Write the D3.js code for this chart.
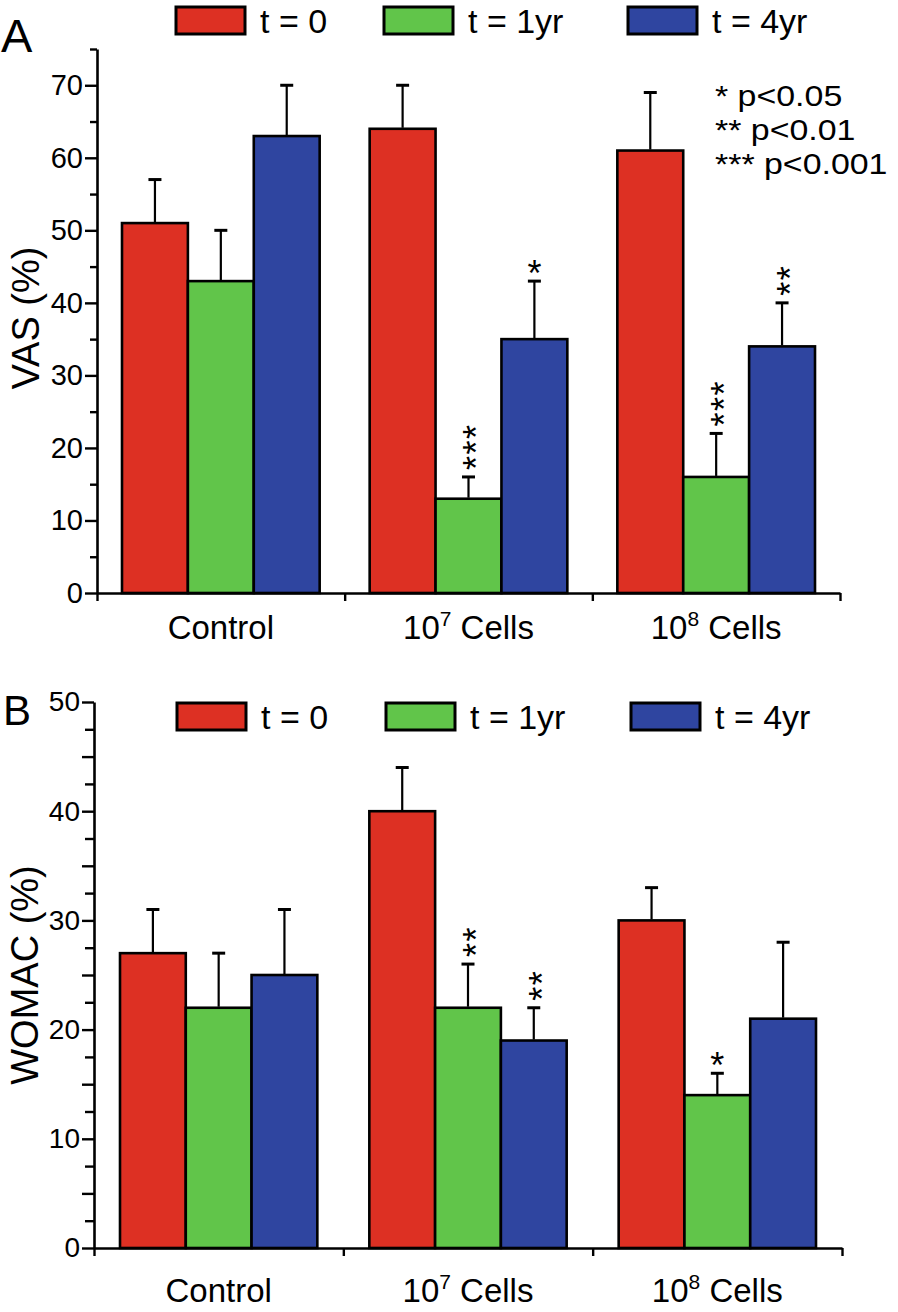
<!DOCTYPE html>
<html>
<head>
<meta charset="utf-8">
<script src="https://cdn.jsdelivr.net/npm/d3@7"></script>
<style>
  html, body { margin: 0; padding: 0; background: #fff; }
  svg { display: block; font-family: "Liberation Sans", Arial, Helvetica, sans-serif; }
</style>
</head>
<body>
<svg id="chart" width="898" height="1312"></svg>
<script>
// ---------------- DATA ----------------
const categories = ["Control", "10^7 Cells", "10^8 Cells"];
const series = ["t = 0", "t = 1yr", "t = 4yr"];
const colors = ["#DD3023", "#61C54A", "#2F45A0"];

// Panel A: VAS (%)
const vasT0 = [51, 64, 61];
const vasT1 = [43, 13, 16];
const vasT4 = [63, 35, 34];
const vasErrT0 = [6, 6, 8];
const vasErrT1 = [7, 3, 6];
const vasErrT4 = [7, 8, 6];
const vasSigT0 = ["", "", ""];
const vasSigT1 = ["", "***", "***"];
const vasSigT4 = ["", "*", "**"];
const vasMajorTicks = [0, 10, 20, 30, 40, 50, 60, 70];
const vasMinorTicks = [5, 15, 25, 35, 45, 55, 65, 75];

// Panel B: WOMAC (%)
const womacT0 = [27, 40, 30];
const womacT1 = [22, 22, 14];
const womacT4 = [25, 19, 21];
const womacErrT0 = [4, 4, 3];
const womacErrT1 = [5, 4, 2];
const womacErrT4 = [6, 3, 7];
const womacSigT0 = ["", "", ""];
const womacSigT1 = ["", "**", "*"];
const womacSigT4 = ["", "**", ""];
const womacMajorTicks = [0, 10, 20, 30, 40, 50];
const womacMidTicks = [5, 15, 25, 35, 45];
const womacMinorTicks = [2.5, 7.5, 12.5, 17.5, 22.5, 27.5, 32.5, 37.5, 42.5, 47.5];

const sigLegend = ["* p<0.05", "** p<0.01", "*** p<0.001"];

// ---------------- DRAW ----------------
const svg = d3.select("#chart");
const STAR_FS = 36;

function drawPanel(cfg) {
  const g = svg.append("g");
  const y = d3.scaleLinear().domain(cfg.yDomain).range(cfg.yRange);
  const x0 = d3.scaleBand().domain(categories).range(cfg.xRange).padding(0);
  const x1 = d3.scaleBand().domain(series).range([cfg.groupPad, x0.bandwidth() - cfg.groupPad]).padding(0);

  const rows = [];
  categories.forEach((c, i) => {
    series.forEach((s, j) => {
      rows.push({c, s, j, v: cfg.values[j][i], e: cfg.errs[j][i], sig: cfg.sigs[j][i]});
    });
  });

  // bars
  g.selectAll("rect.bar").data(rows).join("rect")
    .attr("class", "bar")
    .attr("x", d => x0(d.c) + x1(d.s))
    .attr("y", d => y(d.v))
    .attr("width", x1.bandwidth())
    .attr("height", d => y(0) - y(d.v))
    .attr("fill", d => colors[d.j])
    .attr("stroke", "#000")
    .attr("stroke-width", 2.6);

  // error bars
  const cx = d => x0(d.c) + x1(d.s) + x1.bandwidth() / 2;
  g.selectAll("line.err").data(rows).join("line")
    .attr("x1", cx).attr("x2", cx)
    .attr("y1", d => y(d.v) - 1).attr("y2", d => y(d.v + d.e))
    .attr("stroke", "#000").attr("stroke-width", 2.2);
  g.selectAll("line.cap").data(rows).join("line")
    .attr("x1", d => cx(d) - 6.5).attr("x2", d => cx(d) + 6.5)
    .attr("y1", d => y(d.v + d.e)).attr("y2", d => y(d.v + d.e))
    .attr("stroke", "#000").attr("stroke-width", 3);

  // significance stars: single star upright, stacks written vertically
  rows.filter(d => d.sig).forEach(d => {
    const capY = y(d.v + d.e);
    if (d.sig.length === 1) {
      g.append("text")
        .attr("x", cx(d)).attr("y", capY - 16 + 21)
        .attr("text-anchor", "middle")
        .attr("font-size", STAR_FS).attr("fill", "#000")
        .text(d.sig);
    } else {
      g.append("text")
        .attr("transform", `translate(${cx(d) + 0.58 * STAR_FS},${capY - 7}) rotate(-90)`)
        .attr("text-anchor", "start")
        .attr("letter-spacing", 1.5)
        .attr("font-size", STAR_FS).attr("fill", "#000")
        .text(d.sig);
    }
  });

  // y axis
  const yMajor = d3.axisLeft(y).tickValues(cfg.major).tickSize(12).tickPadding(2).tickSizeOuter(0);
  const yg = g.append("g").attr("transform", `translate(${cfg.xRange[0]},0)`).call(yMajor);
  yg.select(".domain").attr("stroke-width", 2.6);
  yg.selectAll(".tick line").attr("stroke-width", 2.4);
  yg.selectAll(".tick text").attr("font-size", cfg.tickFont).attr("fill", "#000")
    .attr("font-family", "\"Liberation Sans\", Arial, sans-serif");
  if (cfg.mid.length) {
    const yMid = d3.axisLeft(y).tickValues(cfg.mid).tickSize(12).tickFormat("").tickSizeOuter(0);
    const ym = g.append("g").attr("transform", `translate(${cfg.xRange[0]},0)`).call(yMid);
    ym.select(".domain").remove();
    ym.selectAll(".tick line").attr("stroke-width", 2.4);
  }
  const yMinor = d3.axisLeft(y).tickValues(cfg.minor).tickSize(cfg.minorLen).tickFormat("").tickSizeOuter(0);
  const yn = g.append("g").attr("transform", `translate(${cfg.xRange[0]},0)`).call(yMinor);
  yn.select(".domain").remove();
  yn.selectAll(".tick line").attr("stroke-width", 2.4);

  // x axis (ticks at group boundaries)
  const xb = d3.scaleLinear().domain([0, categories.length]).range(cfg.xRange);
  const xAxis = d3.axisBottom(xb).tickValues(d3.range(categories.length + 1)).tickSize(8).tickFormat("").tickSizeOuter(0);
  const xg = g.append("g").attr("transform", `translate(0,${y(0)})`).call(xAxis);
  xg.select(".domain").attr("stroke-width", 2.6);
  xg.selectAll(".tick line").attr("stroke-width", 2.4);

  // category labels with superscripts
  categories.forEach(c => {
    const t = g.append("text")
      .attr("x", x0(c) + x0.bandwidth() / 2)
      .attr("y", cfg.labelY)
      .attr("text-anchor", "middle")
      .attr("font-size", 33)
      .attr("fill", "#000");
    const m = c.match(/^(\d+)\^(\d+)(.*)$/);
    if (m) {
      t.append("tspan").text(m[1]);
      t.append("tspan").attr("font-size", 21).attr("dy", -13).text(m[2]);
      t.append("tspan").attr("dy", 13).text(m[3]);
    } else {
      t.text(c);
    }
  });

  // axis title
  g.append("text")
    .attr("transform", `translate(${cfg.titleX},${cfg.titleY}) rotate(-90)`)
    .attr("text-anchor", "middle")
    .attr("font-size", 38)
    .attr("fill", "#000")
    .text(cfg.title);

  // panel letter
  g.append("text")
    .attr("x", cfg.letterX).attr("y", cfg.letterY)
    .attr("font-size", cfg.letterSize)
    .attr("fill", "#000")
    .text(cfg.letter);

  // legend
  const lg = g.append("g");
  series.forEach((s, j) => {
    lg.append("rect")
      .attr("x", cfg.legendX[j]).attr("y", cfg.legendY)
      .attr("width", 69).attr("height", 27)
      .attr("fill", colors[j]).attr("stroke", "#000").attr("stroke-width", 3);
    lg.append("text")
      .attr("x", cfg.legendX[j] + 84).attr("y", cfg.legendY + 26)
      .attr("font-size", 34).attr("fill", "#000")
      .text(s);
  });
  return g;
}

drawPanel({
  yDomain: [0, 75], yRange: [593, 49], xRange: [97, 840], groupPad: 25,
  values: [vasT0, vasT1, vasT4], errs: [vasErrT0, vasErrT1, vasErrT4], sigs: [vasSigT0, vasSigT1, vasSigT4],
  major: vasMajorTicks, mid: [], minor: vasMinorTicks, minorLen: 7, tickFont: 29,
  labelY: 639, title: "VAS (%)", titleX: 39, titleY: 318,
  letter: "A", letterX: 1, letterY: 52, letterSize: 47,
  legendX: [176, 384, 628], legendY: 7
});

drawPanel({
  yDomain: [0, 50], yRange: [1248, 702], xRange: [94, 842], groupPad: 26,
  values: [womacT0, womacT1, womacT4], errs: [womacErrT0, womacErrT1, womacErrT4], sigs: [womacSigT0, womacSigT1, womacSigT4],
  major: womacMajorTicks, mid: womacMidTicks, minor: womacMinorTicks, minorLen: 9, tickFont: 28,
  labelY: 1302, title: "WOMAC (%)", titleX: 38, titleY: 975,
  letter: "B", letterX: 3, letterY: 725, letterSize: 42,
  legendX: [177, 386, 631], legendY: 703
});

// significance legend (panel A): separate lines, slightly widened glyphs
const sl = svg.append("g").attr("transform", "translate(715,0) scale(1.15,1)");
sigLegend.forEach((s, i) => {
  sl.append("text")
    .attr("x", 0).attr("y", 106 + i * 34)
    .attr("font-size", 29.5).attr("fill", "#000")
    .text(s);
});
</script>
</body>
</html>
